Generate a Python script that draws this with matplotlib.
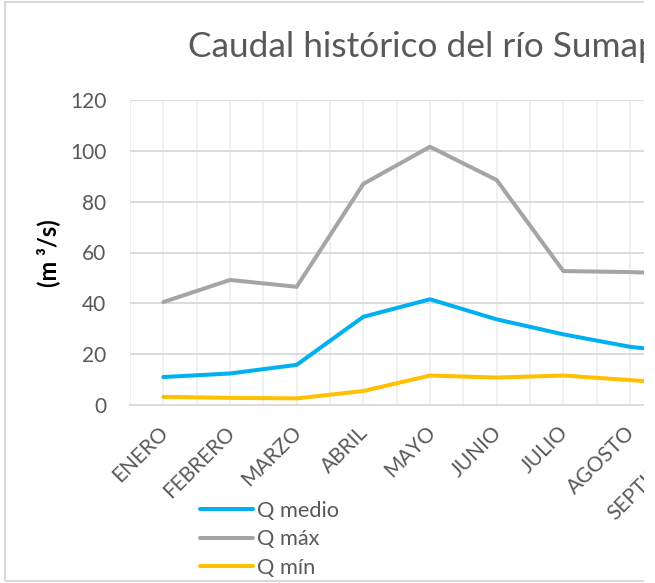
import matplotlib.pyplot as plt
from matplotlib.patches import Rectangle
from matplotlib.transforms import Affine2D
import numpy as np

plt.rcParams['font.family'] = ['Lato', 'DejaVu Sans']

months = ['ENERO', 'FEBRERO', 'MARZO', 'ABRIL', 'MAYO', 'JUNIO', 'JULIO',
          'AGOSTO', 'SEPTIEMBRE', 'OCTUBRE', 'NOVIEMBRE', 'DICIEMBRE']
# only the visible part of the chart (it is cut off on the right)
q_medio = [11.0, 12.4, 15.8, 34.7, 41.6, 33.7, 27.8, 22.9, 20.0]
q_max = [40.5, 49.2, 46.5, 87.0, 101.6, 88.5, 52.7, 52.3, 51.3]
q_min = [3.2, 2.8, 2.6, 5.5, 11.6, 10.8, 11.6, 9.8, 8.0]
yticks = [0, 20, 40, 60, 80, 100, 120]

text_color = '#595959'
W, H = 655, 583

fig = plt.figure(figsize=(W / 100, H / 100), dpi=100)

# plot area runs past the right edge of the picture
ax = fig.add_axes([130 / W, 1 - 405 / H, 800 / W, 305 / H])
x = np.arange(len(q_medio))
ax.plot(x, q_medio, color='#00B0F0', lw=2.9, label='Q medio', solid_capstyle='round', zorder=3)
ax.plot(x, q_max, color='#A5A5A5', lw=2.9, label='Q máx', solid_capstyle='round', zorder=3)
ax.plot(x, q_min, color='#FFC000', lw=2.9, label='Q mín', solid_capstyle='round', zorder=3)

ax.set_xlim(-0.5, len(months) - 0.5)
ax.set_ylim(0, 120)
ax.set_yticks(yticks)
ax.set_yticklabels([str(t) for t in yticks], fontsize=15, color=text_color)
ax.set_xticks(np.arange(len(months)))
ax.set_xticklabels(months, rotation=45, ha='right', rotation_mode='anchor',
                   fontsize=15, color=text_color)
ax.tick_params(axis='y', length=0, pad=17)
ax.tick_params(axis='x', length=0, pad=14)
# nudge the month labels a little left, like in the original
for lab in ax.get_xticklabels():
    lab.set_transform(lab.get_transform() + Affine2D().translate(-5, 2))

for v in np.arange(-0.5, len(months), 0.5):
    ax.axvline(v, color='#efefef', lw=1.3, zorder=1)
for t in yticks[1:]:
    ax.axhline(t, color='#d9d9d9', lw=1.3, zorder=1)
for s in ['top', 'right', 'left']:
    ax.spines[s].set_visible(False)
ax.spines['bottom'].set_color('#d9d9d9')
ax.spines['bottom'].set_linewidth(1.3)

fig.text(48 / W, 1 - 253 / H, '(m ³/s)', rotation=90, ha='center', va='center',
         fontsize=17, fontweight='bold', color='black')
fig.text(188 / W, 1 - 57 / H, 'Caudal histórico del río Sumapaz', ha='left',
         va='baseline', fontsize=25.4, color=text_color)

handles, labels = ax.get_legend_handles_labels()
fig.legend(handles, labels, loc='upper left', bbox_to_anchor=(200 / W, 1 - 501 / H),
           frameon=False, fontsize=15.7, handlelength=2.43, handletextpad=0.2,
           labelspacing=0.38, borderpad=0, borderaxespad=0, labelcolor=text_color)

# outer chart border
fig.add_artist(Rectangle((5 / W, 2 / H), 1.2, 1 - 4 / H, transform=fig.transFigure,
                         fill=False, edgecolor='#d9d9d9', lw=1.5, zorder=5))
# the picture is cut at x=644
fig.add_artist(Rectangle((644 / W, 0), 1, 1, transform=fig.transFigure,
                         facecolor='white', edgecolor='none', zorder=10))

fig.savefig('out.png', dpi=100)
